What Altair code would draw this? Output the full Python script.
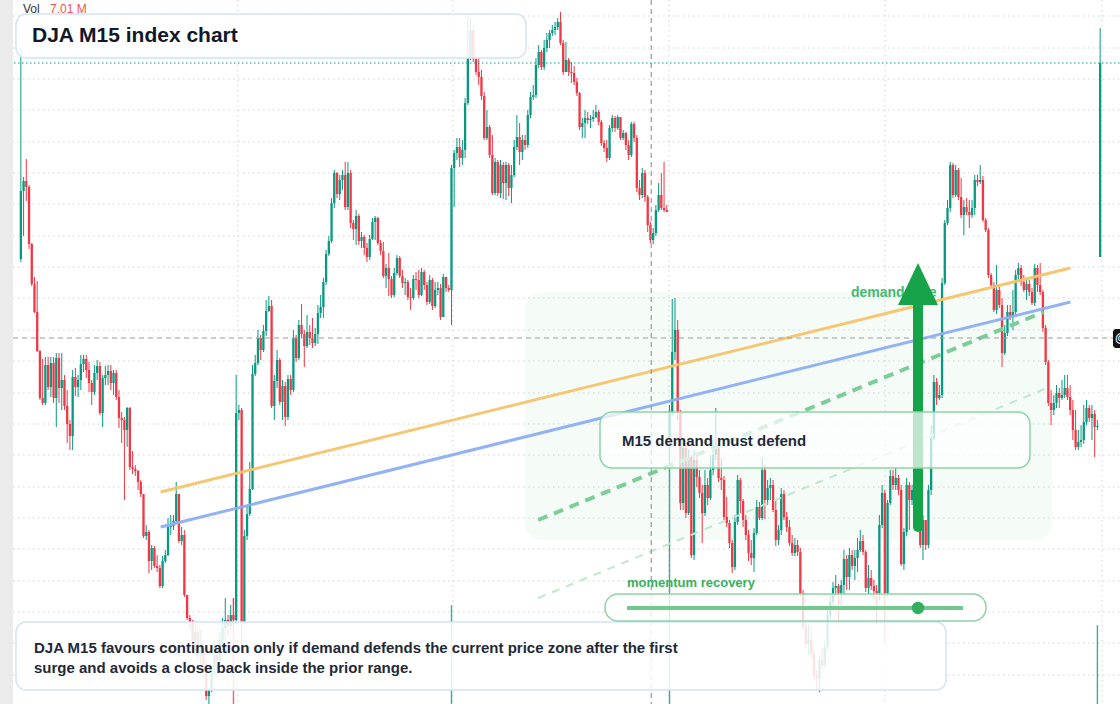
import altair as alt
import pandas as pd

GREEN = "#089981"
RED = "#f23645"
FONT = "Liberation Sans"

# ---- OHLC data (M15 bars), prices ----
close = [
    13209, 13219, 13213, 13156, 13116, 13088, 13049, 13002, 12997, 13035,
    13013, 13037, 13002, 13042, 13012, 13020, 12994, 12976, 12964, 13023,
    13013, 13020, 13036, 13041, 13030, 13017, 13008, 13027, 13034, 12987,
    13022, 13025, 13029, 13017, 13027, 13003, 12982, 12980, 12970, 12992,
    12933, 12931, 12929, 12918, 12906, 12864, 12868, 12839, 12852, 12834,
    12832, 12814, 12839, 12845, 12873, 12874, 12879, 12906, 12859, 12865,
    12805, 12782, 12778, 12760, 12768, 12745, 12752, 12728, 12704, 12710,
    12730, 12745, 12740, 12760, 12772, 12780, 12774, 12785, 12780, 12987,
    12990, 12778, 12864, 12886, 12911, 13026, 13037, 13062, 13050, 13069,
    13089, 13094, 12994, 13019, 13040, 12998, 13014, 12983, 13021, 13010,
    13062, 13042, 13075, 13066, 13054, 13068, 13062, 13057, 13066, 13087,
    13093, 13118, 13146, 13159, 13197, 13227, 13206, 13220, 13225, 13193,
    13227, 13177, 13171, 13184, 13159, 13163, 13152, 13143, 13161, 13178,
    13182, 13157, 13149, 13124, 13132, 13121, 13105, 13127, 13142, 13124,
    13117, 13118, 13103, 13102, 13121, 13120, 13105, 13128, 13115, 13098,
    13120, 13094, 13110, 13112, 13083, 13123, 13112, 13110, 13232, 13247,
    13253, 13242, 13250, 13297, 13342, 13370, 13341, 13328, 13323, 13304,
    13262, 13273, 13245, 13207, 13238, 13207, 13235, 13217, 13235, 13212,
    13225, 13253, 13263, 13248, 13260, 13255, 13285, 13303, 13305, 13335,
    13348, 13333, 13352, 13360, 13367, 13370, 13373, 13378, 13357, 13328,
    13340, 13328, 13327, 13318, 13307, 13273, 13277, 13282, 13280, 13281,
    13283, 13288, 13278, 13257, 13252, 13242, 13272, 13282, 13272, 13283,
    13262, 13267, 13255, 13245, 13276, 13262, 13212, 13205, 13227, 13203,
    13175, 13160, 13167, 13190, 13205, 13192, 13190, 13188, 12987, 13048,
    13070, 12987, 12897, 12952, 12887, 12943, 12845, 12940, 12923, 12907,
    12887, 12915, 12902, 12930, 12945, 12953, 12922, 12920, 12883, 12877,
    12857, 12833, 12878, 12920, 12899, 12880, 12865, 12847, 12842, 12867,
    12893, 12882, 12930, 12900, 12912, 12915, 12890, 12860, 12870, 12906,
    12883, 12873, 12857, 12847, 12855, 12848, 12807, 12773, 12756, 12760,
    12746, 12724, 12722, 12740, 12735, 12753, 12785, 12798, 12812, 12814,
    12807, 12815, 12841, 12823, 12845, 12834, 12842, 12850, 12859, 12848,
    12812, 12822, 12814, 12809, 12807, 12875, 12907, 12807, 12897, 12924,
    12915, 12922, 12910, 12836, 12868, 12915, 12900, 12910, 12905, 12890,
    12855, 12880, 12855, 12910, 12962, 13018, 13002, 13005, 13117, 13177,
    13192, 13235, 13205, 13230, 13203, 13185, 13193, 13188, 13185, 13192,
    13220, 13218, 13220, 13180, 13170, 13125, 13115, 13090, 13110, 13095,
    13047, 13067, 13088, 13083, 13088, 13125, 13132, 13118, 13110, 13116,
    13108, 13097, 13132, 13115, 13108, 13072, 13038, 12997, 12990, 12997,
    13007, 13002, 13005, 13012, 13003, 12990, 12970, 12953, 12958, 12960,
    12978, 12992, 12982, 12986, 12973, 12974, 13337,
]

high = [
    13352, 13223, 13241, 13215, 13157, 13123, 13119, 13050, 13041, 13043,
    13043, 13043, 13043, 13047, 13047, 13047, 13025, 13010, 12980, 13030,
    13032, 13025, 13045, 13045, 13045, 13038, 13020, 13035, 13040, 13038,
    13025, 13034, 13035, 13035, 13030, 13030, 13010, 12988, 12983, 12993,
    12993, 12949, 12935, 12930, 12920, 12906, 12875, 12870, 12855, 12854,
    12845, 12835, 12844, 12850, 12882, 12885, 12885, 12918, 12906, 12873,
    12870, 12805, 12785, 12780, 12775, 12772, 12770, 12755, 12740, 12712,
    12735, 12760, 12755, 12768, 12782, 12802, 12785, 12795, 12802, 13025,
    12995, 12992, 12870, 12895, 12938, 13035, 13045, 13070, 13065, 13075,
    13100, 13104, 13100, 13025, 13050, 13042, 13020, 13018, 13025, 13025,
    13070, 13065, 13080, 13096, 13070, 13085, 13075, 13082, 13072, 13095,
    13105, 13122, 13150, 13164, 13202, 13230, 13228, 13225, 13230, 13238,
    13238, 13230, 13180, 13190, 13186, 13168, 13165, 13157, 13165, 13182,
    13184, 13183, 13160, 13158, 13136, 13147, 13124, 13132, 13145, 13144,
    13130, 13122, 13120, 13112, 13125, 13128, 13130, 13132, 13130, 13118,
    13125, 13122, 13118, 13118, 13116, 13126, 13115, 13115, 13235, 13250,
    13262, 13262, 13260, 13302, 13385, 13382, 13375, 13345, 13342, 13330,
    13308, 13290, 13275, 13265, 13242, 13240, 13240, 13238, 13238, 13237,
    13235, 13260, 13285, 13277, 13265, 13265, 13290, 13308, 13315, 13342,
    13355, 13350, 13360, 13367, 13370, 13375, 13378, 13382, 13388, 13360,
    13358, 13342, 13338, 13334, 13322, 13308, 13282, 13290, 13288, 13285,
    13290, 13295, 13290, 13280, 13260, 13260, 13275, 13285, 13284, 13285,
    13275, 13270, 13268, 13260, 13278, 13278, 13265, 13220, 13232, 13230,
    13205, 13178, 13172, 13195, 13217, 13227, 13238, 13195, 12995, 13101,
    13102, 13080, 12990, 12960, 12955, 12950, 12945, 12950, 12945, 12930,
    12915, 12930, 12922, 12945, 12960, 12992, 12960, 12942, 12924, 12903,
    12880, 12860, 12885, 12925, 12922, 12901, 12885, 12870, 12860, 12872,
    12900, 12898, 12943, 12935, 12920, 12922, 12920, 12900, 12875, 12912,
    12910, 12888, 12880, 12865, 12862, 12860, 12852, 12810, 12780, 12775,
    12774, 12750, 12730, 12745, 12752, 12760, 12790, 12805, 12818, 12825,
    12816, 12820, 12850, 12845, 12852, 12850, 12850, 12862, 12870, 12865,
    12850, 12835, 12830, 12820, 12815, 12885, 12915, 12910, 12900, 12930,
    12930, 12932, 12925, 12915, 12872, 12922, 12918, 12915, 12920, 12910,
    12895, 12885, 12880, 12915, 12975, 13025, 13022, 13015, 13122, 13180,
    13200, 13238, 13237, 13235, 13232, 13222, 13200, 13202, 13200, 13200,
    13225, 13225, 13235, 13224, 13182, 13172, 13127, 13118, 13135, 13115,
    13102, 13075, 13095, 13095, 13110, 13130, 13137, 13135, 13125, 13122,
    13120, 13112, 13136, 13135, 13137, 13110, 13075, 13040, 13010, 13005,
    13015, 13012, 13020, 13025, 13025, 13015, 13000, 12990, 12970, 12975,
    12995, 13000, 12995, 12995, 12990, 12980, 13372,
]

low = [
    13138, 13164, 13199, 13151, 13114, 13087, 13048, 13000, 12995, 12995,
    13010, 13003, 12997, 12973, 12997, 12990, 12990, 12957, 12950, 12950,
    13004, 13003, 13010, 13028, 13022, 13008, 12995, 13005, 13020, 12985,
    12973, 13015, 13015, 13010, 13005, 13000, 12972, 12957, 12900, 12953,
    12930, 12926, 12924, 12910, 12903, 12862, 12860, 12827, 12830, 12832,
    12828, 12812, 12812, 12837, 12844, 12865, 12870, 12878, 12857, 12855,
    12803, 12780, 12770, 12752, 12750, 12740, 12735, 12722, 12700, 12696,
    12708, 12725, 12728, 12735, 12750, 12760, 12765, 12770, 12770, 12775,
    12980, 12755, 12775, 12860, 12884, 12910, 13024, 13035, 13040, 13048,
    13064, 13088, 12992, 12980, 13012, 12995, 12980, 12974, 12980, 13005,
    13008, 13038, 13040, 13062, 13033, 13052, 13055, 13052, 13054, 13056,
    13082, 13082, 13115, 13144, 13157, 13192, 13202, 13200, 13210, 13190,
    13190, 13172, 13160, 13155, 13155, 13152, 13145, 13138, 13140, 13160,
    13160, 13155, 13145, 13122, 13112, 13104, 13102, 13103, 13125, 13122,
    13112, 13105, 13100, 13090, 13100, 13110, 13102, 13104, 13110, 13095,
    13096, 13090, 13092, 13105, 13080, 13085, 13108, 13108, 13075, 13193,
    13240, 13233, 13235, 13242, 13295, 13340, 13338, 13325, 13315, 13300,
    13260, 13260, 13242, 13205, 13205, 13204, 13202, 13201, 13200, 13204,
    13197, 13223, 13250, 13235, 13240, 13250, 13252, 13282, 13300, 13302,
    13332, 13330, 13330, 13348, 13352, 13364, 13365, 13370, 13355, 13325,
    13328, 13324, 13317, 13315, 13304, 13270, 13262, 13262, 13276, 13272,
    13278, 13282, 13275, 13254, 13248, 13238, 13240, 13268, 13268, 13270,
    13260, 13260, 13250, 13240, 13243, 13258, 13208, 13200, 13202, 13198,
    13168, 13157, 13156, 13164, 13188, 13190, 13188, 13188, 12955, 12985,
    13040, 12980, 12890, 12890, 12882, 12885, 12842, 12840, 12913, 12902,
    12857, 12884, 12895, 12900, 12925, 12940, 12918, 12910, 12880, 12873,
    12852, 12827, 12830, 12875, 12887, 12873, 12860, 12839, 12835, 12828,
    12865, 12880, 12880, 12881, 12895, 12900, 12888, 12854, 12855, 12865,
    12880, 12868, 12854, 12844, 12844, 12844, 12804, 12770, 12752, 12745,
    12742, 12720, 12710, 12708, 12730, 12732, 12750, 12782, 12794, 12805,
    12775, 12795, 12805, 12810, 12810, 12830, 12820, 12828, 12848, 12845,
    12808, 12805, 12810, 12800, 12776, 12800, 12872, 12756, 12804, 12895,
    12910, 12910, 12905, 12834, 12830, 12864, 12870, 12895, 12885, 12870,
    12852, 12840, 12850, 12852, 12905, 12960, 12995, 13000, 13002, 13115,
    13175, 13188, 13202, 13203, 13200, 13182, 13165, 13185, 13172, 13182,
    13185, 13214, 13216, 13178, 13168, 13122, 13112, 13088, 13086, 13092,
    13033, 13045, 13064, 13080, 13070, 13085, 13118, 13114, 13108, 13100,
    13104, 13095, 13094, 13108, 13105, 13068, 13035, 12994, 12975, 12985,
    12992, 12992, 13000, 13002, 13000, 12985, 12960, 12950, 12950, 12953,
    12956, 12975, 12978, 12960, 12943, 12970, 13143,
]

first_open = 13141
gap_open_index = [238, 396]
gap_open_price = [12960, 13143]

vol_index = [78, 158, 238, 395]
vol_millions = [7.5, 7.01, 20.9, 5.6]

grid_prices = [13384, 13352, 13321, 13290, 13258, 13227, 13196, 13164, 13133, 13102,
               13070, 13039, 13007, 12976, 12945, 12913, 12882, 12851, 12819, 12788,
               12757, 12725]
session_marks = [79.6, 158.5, 237.8, 317.1, 396.7]
crosshair_index = 231.3
crosshair_price = 13062
last_price = 13337

trend_x1 = [51.3, 51.3, 189.8, 189.8]
trend_x2 = [385.1, 385.1, 375.3, 375.6]
trend_y1 = [12908, 12873, 12880, 12802]
trend_y2 = [13132, 13098, 13088, 13011]

X_DOMAIN = [-5.818, 401.455]
Y_DOMAIN = [12696, 13400]

# ---- build tables ----
gap_map = dict(zip(gap_open_index, gap_open_price))
rows = []
for k, c in enumerate(close):
    if k in gap_map:
        o = gap_map[k]
    elif k == 0:
        o = first_open
    else:
        o = close[k - 1]
    top = max(o, c)
    bot = min(o, c)
    if top - bot < 0.8:
        top += 0.5
        bot -= 0.5
    rows.append(dict(i=k, open=o, close=c, high=max(high[k], o, c), low=min(low[k], o, c),
                     top=top, bot=bot, dir="up" if c >= o else "down"))
candles = pd.DataFrame(rows)
vol_df = pd.DataFrame({"i": vol_index, "vol": vol_millions,
                       "dir": [candles.loc[k, "dir"] for k in vol_index]})
grid_df = pd.DataFrame({"p": grid_prices})
sess_df = pd.DataFrame({"i": session_marks})
trend_df = pd.DataFrame({"x1": trend_x1, "x2": trend_x2, "y1": trend_y1, "y2": trend_y2})
one = pd.DataFrame({"k": [0]})

xs = alt.Scale(domain=X_DOMAIN, nice=False, zero=False)
ys = alt.Scale(domain=Y_DOMAIN, nice=False, zero=False)
cs = alt.Scale(domain=["up", "down"], range=[GREEN, RED])


def X(f):
    return alt.X(f, type="quantitative", scale=xs, axis=None)


def Y(f):
    return alt.Y(f, type="quantitative", scale=ys, axis=None)


def box(x1, x2, y1, y2, **kw):
    return alt.Chart(one).mark_rect(**kw).encode(
        x=alt.value(x1), x2=alt.value(x2), y=alt.value(y1), y2=alt.value(y2))


def label(txt, x, y, size, color, weight="bold"):
    return alt.Chart(one).mark_text(
        align="left", baseline="middle", font=FONT, fontSize=size,
        fontWeight=weight, color=color).encode(
        x=alt.value(x), y=alt.value(y), text=alt.value(txt))


strip = box(0, 13, 0, 704, fill="#ebebeb")
zone = box(525, 1052, 292, 540, fill="#22c55e", fillOpacity=0.045, cornerRadius=16)

hgrid = alt.Chart(grid_df).mark_rule(color="#d2d2d2", strokeWidth=1, strokeDash=[1.5, 3.5]).encode(
    y=Y("p"), x=alt.value(13), x2=alt.value(1120))
vgrid = alt.Chart(sess_df).mark_rule(color="#d2d2d2", strokeWidth=1, strokeDash=[1.5, 3.5]).encode(
    x=X("i"))

volume = alt.Chart(vol_df).mark_bar(size=1.4, opacity=0.8).encode(
    x=X("i"),
    y=alt.Y("vol:Q", scale=alt.Scale(domain=[0, 50], nice=False), axis=None),
    color=alt.Color("dir:N", scale=cs, legend=None))

wicks = alt.Chart(candles).mark_rule(strokeWidth=1).encode(
    x=X("i"), y=Y("low"), y2="high", color=alt.Color("dir:N", scale=cs, legend=None))
bodies = alt.Chart(candles).mark_bar(size=2.3).encode(
    x=X("i"), y=Y("bot"), y2="top", color=alt.Color("dir:N", scale=cs, legend=None))

cross_v = alt.Chart(pd.DataFrame({"i": [crosshair_index]})).mark_rule(
    color="#9a9a9a", strokeWidth=1.2, strokeDash=[5, 4]).encode(x=X("i"))
cross_h = alt.Chart(pd.DataFrame({"p": [crosshair_price]})).mark_rule(
    color="#9a9a9a", strokeWidth=1.2, strokeDash=[5, 4]).encode(
    y=Y("p"), x=alt.value(13), x2=alt.value(1120))
price_line = alt.Chart(pd.DataFrame({"p": [last_price]})).mark_rule(
    color=GREEN, strokeWidth=1, strokeDash=[1.5, 2.5]).encode(
    y=Y("p"), x=alt.value(14), x2=alt.value(1120))


def trend(k, color, width, dash=None, opacity=1.0):
    kw = dict(color=color, strokeWidth=width, opacity=opacity, strokeCap="butt")
    if dash:
        kw["strokeDash"] = dash
    return alt.Chart(trend_df.iloc[[k]]).mark_rule(**kw).encode(
        x=X("x1"), x2="x2", y=Y("y1"), y2="y2")


orange = trend(0, "#f6c46c", 3, opacity=0.95)
blue = trend(1, "#8caef3", 3, opacity=0.95)
demand_fast = trend(2, "#7ccd97", 4, dash=[10, 7])
demand_slow = trend(3, "#bfe8cc", 2, dash=[8, 7])

demand_txt = label("demand side", 851, 293, 14, "#45b96e")
shaft = alt.Chart(one).mark_rule(strokeWidth=10, strokeCap="round", color="#16a34a").encode(
    x=alt.value(918), y=alt.value(300), y2=alt.value(527))
head = alt.Chart(one).mark_point(shape="M -0.95 1 L 0.95 1 L 0 -1 Z", size=1764, filled=True,
                                 color="#16a34a", opacity=1).encode(
    x=alt.value(918), y=alt.value(284))

title_box = box(16, 526, 14, 58, fill="white", fillOpacity=0.85, stroke="#d5e3f7",
                strokeWidth=1.5, cornerRadius=10)
bottom_box = box(16, 946, 622, 690, fill="white", fillOpacity=0.86, stroke="#d5e3f7",
                 strokeWidth=1.5, cornerRadius=10)
m15_box = box(600, 1030, 412, 468, fill="white", fillOpacity=0.72, stroke="#8ed3a4",
              strokeWidth=1.5, cornerRadius=12)
slider_box = box(605, 986, 594, 621, fill="white", fillOpacity=0.78, stroke="#8ed3a4",
                 strokeWidth=1.5, cornerRadius=13)
slider_line = alt.Chart(one).mark_rule(strokeWidth=4, color="#72c990").encode(
    x=alt.value(627), x2=alt.value(963), y=alt.value(608))
slider_dot = alt.Chart(one).mark_point(shape="circle", size=154, filled=True,
                                       color="#34ae5f", opacity=1).encode(
    x=alt.value(918), y=alt.value(608))

title_txt = label("DJA M15 index chart", 32, 36, 21, "#111827")
m15_txt = label("M15 demand must defend", 622, 441, 15, "#1f2937")
mom_txt = label("momentum recovery", 627, 583, 13, "#35b160")
note1 = label("DJA M15 favours continuation only if demand defends the current price zone after the first",
              34, 648, 15, "#1f2937")
note2 = label("surge and avoids a close back inside the prior range.", 34, 668, 15, "#1f2937")
vol_lbl = label("Vol", 23, 9, 12, "#333333", weight="normal")
vol_val = label("7.01 M", 50, 9, 12, "#f0524f", weight="normal")
tag_box = box(1113, 1130, 329, 348, fill="#131313", cornerRadius=3)
tag_txt = label("@", 1115, 338, 12, "white")

chart = alt.layer(
    strip, zone, hgrid, vgrid, volume, wicks, bodies,
    orange, blue, demand_fast, demand_slow, cross_v, cross_h, price_line,
    demand_txt, shaft, head,
    title_box, bottom_box, m15_box, slider_box, slider_line, slider_dot,
    title_txt, m15_txt, mom_txt, note1, note2, vol_lbl, vol_val, tag_box, tag_txt,
).resolve_scale(y="independent").properties(
    width=1120, height=704, padding=0,
    autosize=alt.AutoSizeParams(type="none"),
    background="#ffffff",
).configure_view(stroke=None)

chart.save("out.html", embed_options={"renderer": "svg", "actions": False})
